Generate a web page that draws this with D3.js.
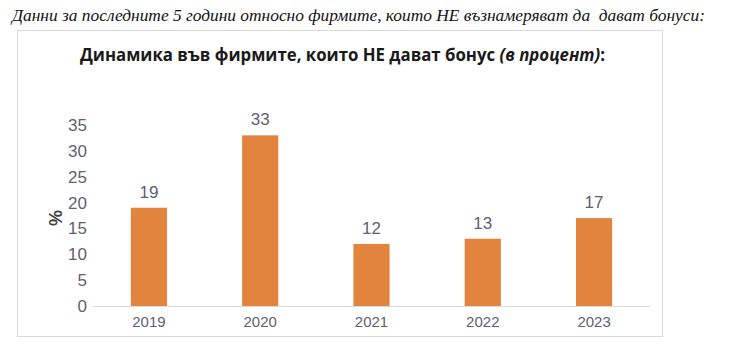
<!DOCTYPE html>
<html><head><meta charset="utf-8">
<script src="https://cdn.jsdelivr.net/npm/d3@7"></script>
<style>body{margin:0;background:#fff}svg{display:block}</style>
</head><body><svg id="c" width="740" height="358"></svg>
<script>
const categories = ["2019","2020","2021","2022","2023"];
const values = [19,33,12,13,17];
const yTicks = [0,5,10,15,20,25,30,35];
const headerText = "Данни за последните 5 години относно фирмите, които НЕ възнамеряват да  дават бонуси:";
const titleMain = "Динамика във фирмите, които НЕ дават бонус ";
const titleItalic = "(в процент)";
const titleEnd = ":";
const yLabel = "%";

const svg = d3.select("#c");
svg.append("text").attr("x",12).attr("y",21)
  .style("white-space","pre")
  .attr("font-family","Liberation Serif, Times New Roman, serif")
  .attr("font-style","italic").attr("font-size",16).attr("fill","#111")
  .attr("textLength",693).attr("lengthAdjust","spacingAndGlyphs")
  .text(headerText);

svg.append("rect").attr("x",17.5).attr("y",30.5).attr("width",645).attr("height",306)
  .attr("fill","#fff").attr("stroke","#d9d9d9").attr("stroke-width",1);

const t = svg.append("text").attr("x",80).attr("y",61)
  .style("white-space","pre")
  .attr("font-family","Open Sans, Noto Sans, sans-serif").attr("font-weight","bold")
  .attr("font-size",17).attr("fill","#1a1a1a")
  .attr("textLength",525).attr("lengthAdjust","spacingAndGlyphs");
t.append("tspan").text(titleMain);
t.append("tspan").attr("font-style","italic").text(titleItalic);
t.append("tspan").text(titleEnd);

const x = d3.scaleBand().domain(categories).range([93,650]).paddingInner(0.675).paddingOuter(0.34);
const y = d3.scaleLinear().domain([0,35]).range([306,125]);

const yAxis = svg.append("g").attr("transform","translate(93,0)")
  .call(d3.axisLeft(y).tickValues(yTicks).tickSize(0).tickPadding(6));
yAxis.select(".domain").remove();
yAxis.selectAll("text").attr("font-family","Liberation Sans, Arial, sans-serif")
  .attr("font-size",17).attr("fill","#5f6070");

const xAxis = svg.append("g").attr("transform","translate(0,306)")
  .call(d3.axisBottom(x).tickSize(0).tickPadding(10));
xAxis.select(".domain").attr("stroke","#d9d9d9").attr("d","M93,0.5H650");
xAxis.selectAll("text").attr("font-family","Liberation Sans, Arial, sans-serif")
  .attr("font-size",15).attr("fill","#5f6070");

svg.selectAll("rect.bar").data(values).join("rect").attr("class","bar")
  .attr("x",(d,i)=>x(categories[i])).attr("width",x.bandwidth())
  .attr("y",d=>y(d)).attr("height",d=>y(0)-y(d)).attr("fill","#E2833E");

svg.selectAll("text.val").data(values).join("text").attr("class","val")
  .attr("x",(d,i)=>x(categories[i])+x.bandwidth()/2).attr("y",d=>y(d)-10)
  .attr("text-anchor","middle").attr("font-family","Liberation Sans, Arial, sans-serif")
  .attr("font-size",17).attr("fill","#5f6070").text(d=>d);

svg.append("text").attr("transform","translate(62,218) rotate(-90)")
  .attr("text-anchor","middle").attr("font-family","Liberation Sans, Arial, sans-serif")
  .attr("font-weight","bold").attr("font-size",18).attr("fill","#444").text(yLabel);
</script></body></html>
